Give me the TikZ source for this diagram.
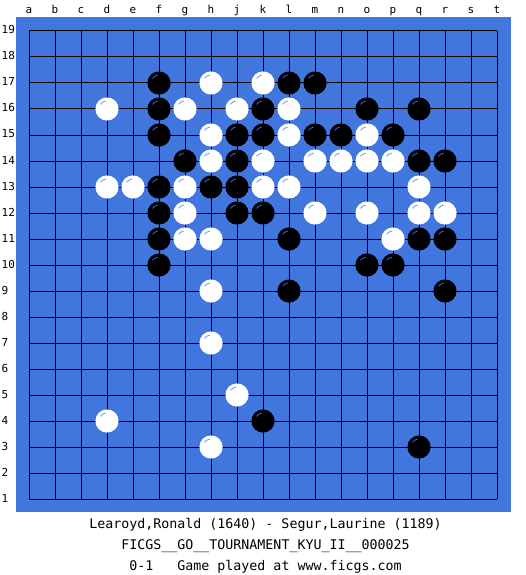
\documentclass[tikz,border=0pt]{standalone}
\usepackage{fontspec}
\newfontfamily\monofont{DejaVu Sans Mono}
\definecolor{board}{RGB}{65,118,222}
\definecolor{hlb}{RGB}{70,105,210}
\definecolor{hlw}{RGB}{110,145,230}
\tikzset{
  gridline/.style={black, line width=1pt},
  lbl/.style={font=\monofont\fontsize{11}{13}\selectfont, inner sep=0pt},
  caption/.style={font=\monofont\fontsize{13.3}{16}\selectfont, inner sep=0pt, anchor=base},
  bstone/.style={fill=black},
  wstone/.style={fill=white},
  bhl/.style={draw=hlb, line width=0.8pt},
  whl/.style={draw=hlw, line width=0.8pt}
}
\begin{document}
\begin{tikzpicture}[x=1pt,y=-1pt]
\useasboundingbox (0,0) rectangle (525,575);
\fill[white] (0,0) rectangle (525,575);
\fill[board] (16,17) rectangle (511,512);
\foreach \i in {0,...,18} {
  \draw[gridline] (29+26*\i,31) -- (29+26*\i,499);
  \draw[gridline] (29,31+26*\i) -- (497,31+26*\i);
}
\foreach \l [count=\i from 0] in {a,b,c,d,e,f,g,h,j,k,l,m,n,o,p,q,r,s,t}
  \node[lbl, anchor=base] at (29+26*\i,14) {\l};
\foreach \r in {1,...,19}
  \node[lbl, anchor=base west] at (1.5,31+26*19-26*\r+3) {\r};
% black stones
\foreach \c/\r in {5/17,10/17,11/17,
  5/16,9/16,13/16,15/16,
  5/15,8/15,9/15,11/15,12/15,14/15,
  6/14,8/14,15/14,16/14,
  5/13,7/13,8/13,
  5/12,8/12,9/12,
  5/11,10/11,15/11,16/11,
  5/10,13/10,14/10,
  10/9,16/9,
  9/4,15/3} {
  \fill[bstone] (29+26*\c,31+26*19-26*\r) circle (11.6);
  \draw[bhl] (29+26*\c,31+26*19-26*\r) ++(-100:8) arc[start angle=-100,end angle=-145,radius=8];
}
% white stones
\foreach \c/\r in {7/17,9/17,
  3/16,6/16,8/16,10/16,
  7/15,10/15,13/15,
  7/14,9/14,11/14,12/14,13/14,14/14,
  3/13,4/13,6/13,9/13,10/13,15/13,
  6/12,11/12,13/12,15/12,16/12,
  6/11,7/11,14/11,
  7/9,7/7,8/5,3/4,7/3} {
  \fill[wstone] (29+26*\c,31+26*19-26*\r) circle (11.6);
  \draw[whl] (29+26*\c,31+26*19-26*\r) ++(-100:8) arc[start angle=-100,end angle=-145,radius=8];
}
\node[caption] (l1) at (265.5,528.5) {Learoyd,Ronald (1640) - Segur,Laurine (1189)};
\node[caption] (l2) at (265.5,549) {FICGS\_\_GO\_\_TOURNAMENT\_KYU\_II\_\_000025};
\node[caption] (l3) at (265.5,570) {0-1\ \ \ Game played at www.ficgs.com};
\end{tikzpicture}
\end{document}
